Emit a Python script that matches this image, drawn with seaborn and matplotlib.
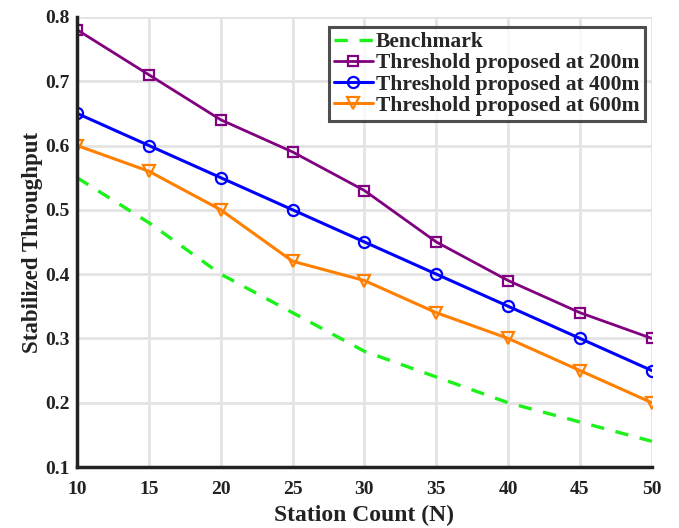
import pandas as pd
import matplotlib
matplotlib.use('Agg')
import matplotlib.pyplot as plt
import seaborn as sns

stations = [10, 15, 20, 25, 30, 35, 40, 45, 50]
benchmark = [0.55, 0.48, 0.40, 0.34, 0.28, 0.24, 0.20, 0.17, 0.14]
thr_200 = [0.78, 0.71, 0.64, 0.59, 0.53, 0.45, 0.39, 0.34, 0.30]
thr_400 = [0.65, 0.60, 0.55, 0.50, 0.45, 0.40, 0.35, 0.30, 0.25]
thr_600 = [0.60, 0.56, 0.50, 0.42, 0.39, 0.34, 0.30, 0.25, 0.20]

labels = ['Benchmark', 'Threshold proposed at 200m',
          'Threshold proposed at 400m', 'Threshold proposed at 600m']

sns.set_style('white')
plt.rcParams['font.family'] = ['Liberation Serif', 'DejaVu Serif']
plt.rcParams['font.weight'] = 'bold'

fig = plt.figure(figsize=(6.79, 5.28), dpi=100)
ax = fig.add_axes([0.1134, 0.1155, 0.8466, 0.8525])

sns.lineplot(x=stations, y=benchmark, color=(0.1, 0.95, 0.1), linestyle='--',
             linewidth=2.4, label=labels[0], ax=ax)
ax.lines[-1].set_dashes([4, 3.5])
sns.lineplot(x=stations, y=thr_200, color='#800080', marker='s', markersize=7,
             markerfacecolor='none', markeredgecolor='#800080', markeredgewidth=1.6,
             linewidth=2.0, label=labels[1], ax=ax)
sns.lineplot(x=stations, y=thr_400, color='#0000ff', marker='o', markersize=8,
             markerfacecolor='none', markeredgecolor='#0000ff', markeredgewidth=1.6,
             linewidth=2.2, label=labels[2], ax=ax)
sns.lineplot(x=stations, y=thr_600, color='#ff8000', marker='v', markersize=9,
             markerfacecolor='none', markeredgecolor='#ff8000', markeredgewidth=1.6,
             linewidth=2.2, label=labels[3], ax=ax)

ax.set_xlim(10, 50)
ax.set_ylim(0.1, 0.8)
ax.set_xticks(stations)
ax.set_yticks([0.1, 0.2, 0.3, 0.4, 0.5, 0.6, 0.7, 0.8])
ax.set_yticklabels(['0.1', '0.2', '0.3', '0.4', '0.5', '0.6', '0.7', '0.8'])
ax.grid(True, color='#e3e3e3', linewidth=2)
ax.set_axisbelow(True)
for s in ['top', 'right']:
    ax.spines[s].set_visible(False)
for s in ['left', 'bottom']:
    ax.spines[s].set_color('#222222')
    ax.spines[s].set_linewidth(2.5)
ax.tick_params(direction='in', length=6, width=2, labelsize=14, colors='#222222')
ax.tick_params(axis='x', pad=10)
ax.tick_params(axis='y', pad=5)
for t in ax.get_xticklabels() + ax.get_yticklabels():
    t.set_fontweight('bold')
ax.set_xlabel('Station Count (N)', fontsize=17, fontweight='bold', color='#222222', labelpad=5)
ax.set_ylabel('Stabilized Throughput', fontsize=16.5, fontweight='bold', color='#222222', labelpad=2)

leg = ax.legend(loc='upper right', bbox_to_anchor=(0.988, 0.978),
                frameon=True, fancybox=False, edgecolor='#222222',
                handlelength=1.8, handletextpad=0.15, borderpad=0.25, labelspacing=0.05,
                borderaxespad=0, prop={'weight': 'bold', 'size': 15.5})
leg.get_frame().set_linewidth(2.2)

fig.savefig('out.png', dpi=100)
